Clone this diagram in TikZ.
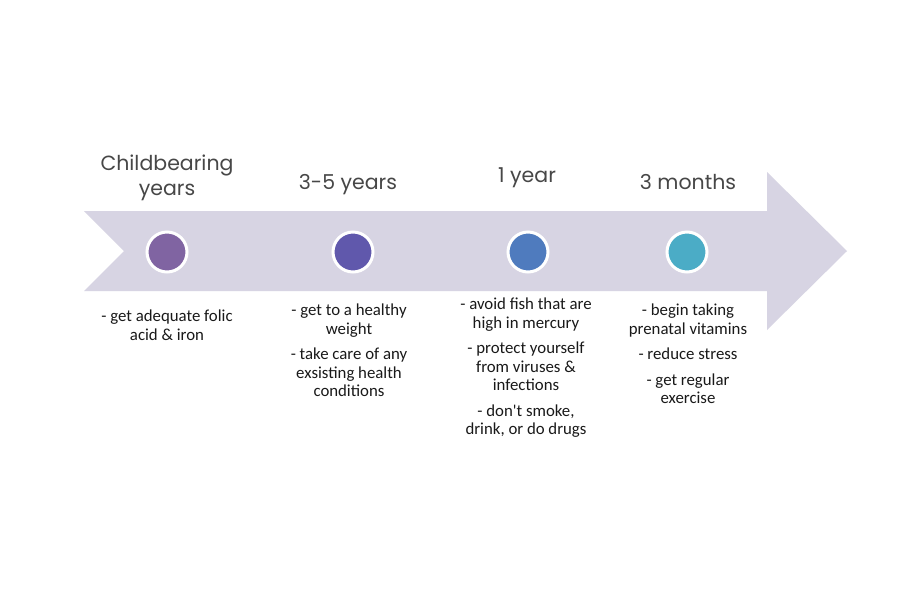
\documentclass[tikz,border=0pt]{standalone}
\usepackage{fontspec}
\setmainfont{Carlito}[Ligatures=TeXOff]
\newfontfamily\headfont{Poppins}
\definecolor{band}{HTML}{D7D4E3}
\definecolor{cA}{HTML}{8064A2}
\definecolor{cB}{HTML}{6058AC}
\definecolor{cC}{HTML}{4F7BBE}
\definecolor{cD}{HTML}{4BACC6}
\definecolor{headgray}{HTML}{474747}
\begin{document}
\begin{tikzpicture}[x=1pt,y=-1pt,
  dot/.style={circle,draw=white,line width=3pt,minimum size=40pt,inner sep=0pt},
  headtxt/.style={font=\headfont\fontsize{20.5}{25}\selectfont,text=headgray,align=center,inner sep=0pt},
  bodytxt/.style={font=\fontsize{16.8}{18.5}\selectfont,text=black!90,align=center,inner sep=0pt,anchor=north}]
\useasboundingbox (0,0) rectangle (903,614);
\fill[white] (0,0) rectangle (903,614);
\fill[band] (84,211) -- (767,211) -- (767,172) -- (847,251) -- (767,330) -- (767,291) -- (84,291) -- (124,251) -- cycle;
\node[dot,fill=cA] (d1) at (167,252) {};
\node[dot,fill=cB] (d2) at (353,252) {};
\node[dot,fill=cC] (d3) at (528,252) {};
\node[dot,fill=cD] (d4) at (687,252) {};
\node[headtxt] (h1) at (167,178) {Childbearing\\years};
\node[headtxt] (h2) at (348,185) {3-5 years};
\node[headtxt] (h3) at (527,178) {1 year};
\node[headtxt] (h4) at (688,182) {3 months};
\node[bodytxt] (b1) at (167,310) {- get adequate folic\\acid \& iron};
\node[bodytxt] (b2) at (349,304) {- get to a healthy\\weight\\[7pt]- take care of any\\exsisting health\\conditions};
\node[bodytxt] (b3) at (526,298) {- avoid fish that are\\high in mercury\\[7pt]- protect yourself\\from viruses \&\\infections\\[7pt]- don't smoke,\\drink, or do drugs};
\node[bodytxt] (b4) at (688,304) {- begin taking\\prenatal vitamins\\[7pt]- reduce stress\\[7pt]- get regular\\exercise};
\end{tikzpicture}
\end{document}
